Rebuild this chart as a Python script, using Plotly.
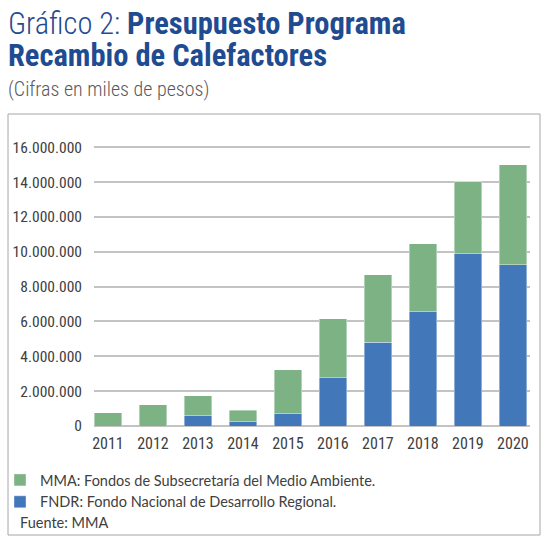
import plotly.graph_objects as go

years = ["2011", "2012", "2013", "2014", "2015", "2016", "2017", "2018", "2019", "2020"]
fndr = [0, 0, 590000, 230000, 690000, 2760000, 4800000, 6550000, 9880000, 9260000]
mma = [770000, 1220000, 1150000, 670000, 2540000, 3400000, 3870000, 3920000, 4150000, 5730000]
y_ticks = [0, 2000000, 4000000, 6000000, 8000000, 10000000, 12000000, 14000000, 16000000]
y_tick_labels = ["0", "2.000.000", "4.000.000", "6.000.000", "8.000.000", "10.000.000",
                 "12.000.000", "14.000.000", "16.000.000"]

W, H = 550, 549
L, R, T, B = 94, 20, 142, 123
PW, PH = W - L - R, H - T - B


def px(x):
    return (x - L) / PW


def py(y):
    return (H - B - y) / PH


GREEN = "#7db285"
BLUE = "#4277b9"
TITLE = "#1f4c91"
COND = "Roboto Condensed, DejaVu Sans Condensed, sans-serif"

fig = go.Figure()
fig.add_trace(go.Bar(x=years, y=fndr, name="FNDR: Fondo Nacional de Desarrollo Regional.",
                     marker=dict(color=BLUE, line=dict(color="rgba(255,255,255,0.5)", width=0.8))))
fig.add_trace(go.Bar(x=years, y=mma, name="MMA: Fondos de Subsecretaría del Medio Ambiente.",
                     marker=dict(color=GREEN, line=dict(color="rgba(255,255,255,0.5)", width=0.8))))

fig.update_layout(
    width=W, height=H,
    margin=dict(l=L, r=R, t=T, b=B, pad=0, autoexpand=False),
    barmode="stack", bargap=0.385,
    plot_bgcolor="white", paper_bgcolor="white",
    showlegend=True,
    legend=dict(x=px(0), y=py(464), xanchor="left", yanchor="top",
                font=dict(family="Lato, sans-serif", size=14.5, color="#404040"),
                bgcolor="rgba(0,0,0,0)", tracegroupgap=0, itemwidth=30),
    xaxis=dict(type="category", range=[-0.31, 9.38], showgrid=False, automargin=False,
               showline=False, ticks="", ticklabelstandoff=6,
               tickfont=dict(family=COND, size=16, color="#404040")),
    yaxis=dict(range=[0, 16300000], tickvals=y_ticks, ticktext=y_tick_labels, automargin=False,
               showgrid=True, gridcolor="#c3c3c3", gridwidth=1.5, zeroline=True,
               zerolinecolor="#c3c3c3", zerolinewidth=1.5, showline=False, ticks="",
               ticklabelstandoff=11,
               tickfont=dict(family=COND, size=15.5, color="#404040")),
)

fig.add_shape(type="rect", xref="paper", yref="paper",
              x0=px(8), x1=px(540), y0=py(535), y1=py(114),
              line=dict(color="#a6a6a6", width=1), fillcolor="rgba(0,0,0,0)", layer="below")

fig.add_annotation(xref="paper", yref="paper", x=px(6), y=py(23), xanchor="left", yanchor="middle",
                   showarrow=False,
                   text="<span style='font-weight:300'>Gráfico 2: </span><b>Presupuesto Programa</b>",
                   font=dict(family=COND, size=30.5, color=TITLE))
fig.add_annotation(xref="paper", yref="paper", x=px(6), y=py(55), xanchor="left", yanchor="middle",
                   showarrow=False, text="<b>Recambio de Calefactores</b>",
                   font=dict(family=COND, size=30.5, color=TITLE))
fig.add_annotation(xref="paper", yref="paper", x=px(6), y=py(89), xanchor="left", yanchor="middle",
                   showarrow=False, text="(Cifras en miles de pesos)",
                   font=dict(family=COND, size=20, color="#5a5a5a", weight=300))
fig.add_annotation(xref="paper", yref="paper", x=px(18), y=py(522), xanchor="left", yanchor="middle",
                   showarrow=False, text="Fuente: MMA",
                   font=dict(family="Lato, sans-serif", size=14.5, color="#404040"))

fig.write_html("out.html", config={"displayModeBar": False},
               post_script="document.body.style.margin='0';")
